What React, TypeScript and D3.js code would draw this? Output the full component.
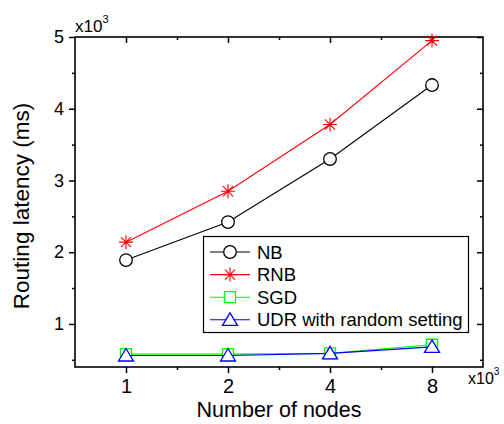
import { useEffect, useRef } from 'react';
import * as d3 from 'd3';

const nodeLabels = ['1', '2', '4', '8'];
const nbValues = [1890, 2420, 3300, 4330];
const rnbValues = [2140, 2850, 3780, 4950];
const sgdValues = [580, 580, 590, 710];
const udrValues = [560, 560, 590, 680];

const seriesNames = ['NB', 'RNB', 'SGD', 'UDR with random setting'];
const seriesColors = ['#000000', '#ff0000', '#00ff00', '#0000ff'];
const seriesShapes = ['circle', 'star', 'square', 'triangle'];

const yMajorTicks = [1000, 2000, 3000, 4000, 5000];
const yMinorTicks = [500, 1500, 2500, 3500, 4500];

const FONT = '"Liberation Sans", Arial, sans-serif';

function markerPath(shape: string): string {
  if (shape === 'circle') {
    return d3.symbol(d3.symbolCircle, 125)() as string;
  }
  if (shape === 'square') {
    return 'M-5.5,-5.5L5.5,-5.5L5.5,5.5L-5.5,5.5Z';
  }
  if (shape === 'triangle') {
    return 'M0,-7L7.5,5.5L-7.5,5.5Z';
  }
  // asterisk: plus + x
  const r = 7;
  const d = r * 0.72;
  return `M0,${-r}L0,${r}M${-r},0L${r},0M${-d},${-d}L${d},${d}M${-d},${d}L${d},${-d}`;
}

export default function App() {
  const svgRef = useRef<SVGSVGElement>(null);

  useEffect(() => {
    if (!svgRef.current) return;

    const svg = d3.select(svgRef.current);
    svg.selectAll('*').remove();

    const left = 75;
    const right = 483;
    const top = 37;
    const bottom = 367;

    const xScale = d3.scaleLinear().domain([-0.5, 3.5]).range([left, right]);
    const yScale = d3.scaleLinear().domain([400, 5000]).range([bottom, top]);

    const xMajor = nodeLabels.map((_, i) => i);
    const xMinor = [0.5, 1.5, 2.5];

    // Left axis (outward ticks)
    const leftAxis = svg
      .append('g')
      .attr('transform', `translate(${left},0)`)
      .call(
        d3
          .axisLeft(yScale)
          .tickValues(yMajorTicks)
          .tickSize(6)
          .tickPadding(5)
          .tickFormat((d) => `${(d as number) / 1000}`)
      );
    leftAxis.selectAll('text').attr('font-size', 18).attr('font-family', FONT).attr('fill', '#000');
    svg
      .append('g')
      .attr('transform', `translate(${left},0)`)
      .call(d3.axisLeft(yScale).tickValues(yMinorTicks).tickSize(3).tickFormat(() => ''));

    // Right axis (inward ticks)
    svg
      .append('g')
      .attr('transform', `translate(${right},0)`)
      .call(d3.axisLeft(yScale).tickValues(yMajorTicks).tickSize(6).tickFormat(() => ''));
    svg
      .append('g')
      .attr('transform', `translate(${right},0)`)
      .call(d3.axisLeft(yScale).tickValues(yMinorTicks).tickSize(3).tickFormat(() => ''));

    // Bottom axis (outward ticks)
    const bottomAxis = svg
      .append('g')
      .attr('transform', `translate(0,${bottom})`)
      .call(
        d3
          .axisBottom(xScale)
          .tickValues(xMajor)
          .tickSize(6)
          .tickPadding(6)
          .tickFormat((d) => nodeLabels[d as number])
      );
    bottomAxis.selectAll('text').attr('font-size', 20).attr('font-family', FONT).attr('fill', '#000');
    svg
      .append('g')
      .attr('transform', `translate(0,${bottom})`)
      .call(d3.axisBottom(xScale).tickValues(xMinor).tickSize(3).tickFormat(() => ''));

    // Top axis (inward ticks)
    svg
      .append('g')
      .attr('transform', `translate(0,${top})`)
      .call(d3.axisBottom(xScale).tickValues(xMajor).tickSize(6).tickFormat(() => ''));
    svg
      .append('g')
      .attr('transform', `translate(0,${top})`)
      .call(d3.axisBottom(xScale).tickValues(xMinor).tickSize(3).tickFormat(() => ''));

    svg.selectAll('.domain').remove();
    svg.selectAll('.tick line').attr('stroke', '#000').attr('stroke-width', 1.5);

    // Frame
    svg
      .append('rect')
      .attr('x', left)
      .attr('y', top)
      .attr('width', right - left)
      .attr('height', bottom - top)
      .attr('fill', 'none')
      .attr('stroke', '#000')
      .attr('stroke-width', 1.6);

    // Series
    const allValues = [nbValues, rnbValues, sgdValues, udrValues];
    const line = d3
      .line<number>()
      .x((_, i) => xScale(i))
      .y((d) => yScale(d));

    allValues.forEach((values, si) => {
      svg
        .append('path')
        .datum(values)
        .attr('d', line)
        .attr('fill', 'none')
        .attr('stroke', seriesColors[si])
        .attr('stroke-width', 1.1);

      svg
        .selectAll(`.marker-${si}`)
        .data(values)
        .enter()
        .append('path')
        .attr('class', `marker-${si}`)
        .attr('transform', (d, i) => `translate(${xScale(i)},${yScale(d)})`)
        .attr('d', markerPath(seriesShapes[si]))
        .attr('fill', seriesShapes[si] === 'star' ? 'none' : '#fff')
        .attr('stroke', seriesColors[si])
        .attr('stroke-width', seriesShapes[si] === 'star' ? 1.1 : 1.3);
    });

    // Legend
    const legend = svg.append('g');
    legend
      .append('rect')
      .attr('x', 203.5)
      .attr('y', 236.5)
      .attr('width', 265)
      .attr('height', 96)
      .attr('fill', '#fff')
      .attr('stroke', '#000')
      .attr('stroke-width', 1.2);

    seriesNames.forEach((name, si) => {
      const y = 252 + si * 22.6;
      legend
        .append('line')
        .attr('x1', 210)
        .attr('x2', 250)
        .attr('y1', y)
        .attr('y2', y)
        .attr('stroke', seriesColors[si])
        .attr('stroke-width', 1.1);
      legend
        .append('path')
        .attr('transform', `translate(230,${y})`)
        .attr('d', markerPath(seriesShapes[si]))
        .attr('fill', seriesShapes[si] === 'star' ? 'none' : '#fff')
        .attr('stroke', seriesColors[si])
        .attr('stroke-width', seriesShapes[si] === 'star' ? 1.1 : 1.3);
      legend
        .append('text')
        .attr('x', 257)
        .attr('y', y + 6.5)
        .attr('font-size', 18.5)
        .attr('font-family', FONT)
        .attr('fill', '#000')
        .text(name);
    });

    // Axis titles
    svg
      .append('text')
      .attr('x', (left + right) / 2)
      .attr('y', 417)
      .attr('text-anchor', 'middle')
      .attr('font-size', 21.5)
      .attr('font-family', FONT)
      .text('Number of nodes');

    svg
      .append('text')
      .attr('transform', `translate(28.5,${(top + bottom) / 2 + 4}) rotate(-90)`)
      .attr('text-anchor', 'middle')
      .attr('font-size', 22.5)
      .attr('font-family', FONT)
      .text('Routing latency (ms)');

    // Scale multipliers
    const multY = svg.append('text').attr('x', 75).attr('y', 31.5).attr('font-size', 17).attr('font-family', FONT);
    multY.append('tspan').text('x10');
    multY.append('tspan').attr('dy', -9).attr('font-size', 11).text('3');

    const multX = svg.append('text').attr('x', 468).attr('y', 383.5).attr('font-size', 16).attr('font-family', FONT);
    multX.append('tspan').text('x10');
    multX.append('tspan').attr('dy', -9).attr('font-size', 10).text('3');
  }, []);

  return (
    <svg
      ref={svgRef}
      width={504}
      height={424}
      style={{ position: 'absolute', left: 0, top: 0, background: '#fff' }}
    ></svg>
  );
}
